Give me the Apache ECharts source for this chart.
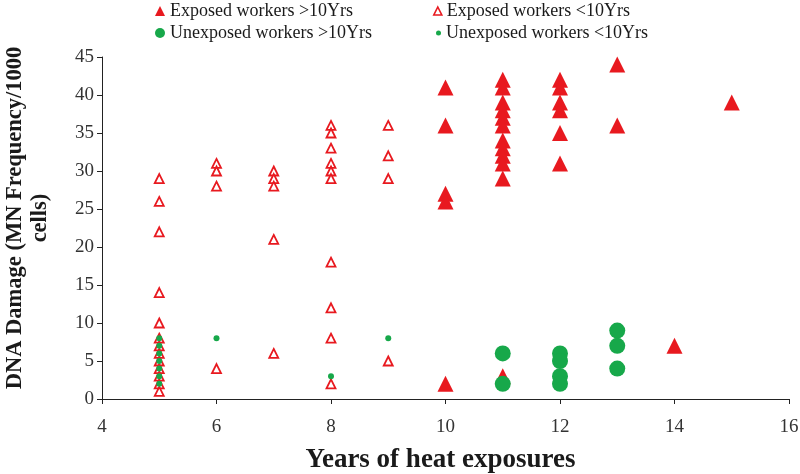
<!DOCTYPE html>
<html>
<head>
<meta charset="utf-8">
<script src="https://cdn.jsdelivr.net/npm/echarts@6/dist/echarts.min.js"></script>
<style>html,body{margin:0;padding:0;background:#fff}#c{width:800px;height:474px}</style>
</head>
<body>
<div id="c"></div>
<script>
// Series names
var nameExpGt10 = 'Exposed workers >10Yrs';
var nameExpLt10 = 'Exposed workers <10Yrs';
var nameUnexpGt10 = 'Unexposed workers >10Yrs';
var nameUnexpLt10 = 'Unexposed workers <10Yrs';

// [years, MN frequency]
var expGt10 = [[10,41],[10,36],[10,27],[10,26],[10,2],
  [11,42],[11,41],[11,39],[11,38],[11,37],[11,36],[11,34],[11,33],[11,32],[11,31],[11,29],[11,3],
  [12,42],[12,41],[12,39],[12,38],[12,35],[12,31],
  [13,44],[13,36],[14,7],[15,39]];
var expLt10 = [[5,29],[5,26],[5,22],[5,14],[5,10],[5,8],[5,7],[5,6],[5,5],[5,4],[5,3],[5,2],[5,1],
  [6,31],[6,30],[6,28],[6,4],
  [7,30],[7,29],[7,28],[7,21],[7,6],
  [8,36],[8,35],[8,33],[8,31],[8,30],[8,29],[8,18],[8,12],[8,8],[8,2],
  [9,36],[9,32],[9,29],[9,5]];
var unexpGt10 = [[11,6],[11,2],[12,6],[12,5],[12,3],[12,2],[13,9],[13,7],[13,4]];
var unexpLt10 = [[5,8],[5,7],[5,6],[5,5],[5,4],[5,3],[5,2],[6,8],[8,3],[9,8]];

var xTicks = {min:4, max:16, interval:2};
var yTicks = {min:0, max:45, interval:5};

var RED = '#e8191f', GREEN = '#17a84a';
var serif = 'Liberation Serif';
var legText = {fontFamily: serif, fontSize: 18, color: '#1a1a1a'};

function leg(name, icon, w, h, left, top, style) {
  return {data:[{name:name, icon:icon, itemStyle:style}], left:left, top:top, itemWidth:w, itemHeight:h,
    textStyle:legText, padding:0, selectedMode:false};
}

var chart = echarts.init(document.getElementById('c'), null, {renderer:'canvas'});
chart.setOption({
  animation:false,
  backgroundColor:'#fff',
  legend:[
    leg(nameExpGt10,'triangle',10,10,155,2,{color:RED}),
    leg(nameUnexpGt10,'circle',10,10,155,24,{color:GREEN}),
    leg(nameExpLt10,'triangle',8,8,433,2,{color:'#fff',borderColor:RED,borderWidth:1.6}),
    leg(nameUnexpLt10,'circle',5,5,436,24,{color:GREEN})
  ],
  grid:{left:102, right:11, top:57, bottom:75, containLabel:false, outerBoundsMode:'none'},
  xAxis:{type:'value', min:xTicks.min, max:xTicks.max, interval:xTicks.interval,
    name:'Years of heat exposures', nameLocation:'middle', nameGap:48,
    nameTextStyle:{fontFamily:serif, fontSize:27, fontWeight:'bold', color:'#1a1a1a', padding:[0,10,0,0]},
    axisLine:{lineStyle:{color:'#222', width:1}},
    axisTick:{show:true, inside:false, length:5, lineStyle:{color:'#222'}},
    axisLabel:{fontFamily:serif, fontSize:19, color:'#333', margin:19},
    splitLine:{show:false}},
  yAxis:{type:'value', min:yTicks.min, max:yTicks.max, interval:yTicks.interval,
    name:'DNA Damage (MN Frequency/1000\ncells)', nameLocation:'middle', nameGap:49, nameRotate:90,
    nameTextStyle:{fontFamily:serif, fontSize:22.5, fontWeight:'bold', color:'#1a1a1a', lineHeight:25, align:'center', padding:[0,0,0,20]},
    axisLine:{show:true, lineStyle:{color:'#222', width:1}},
    axisTick:{show:true, inside:false, length:5, lineStyle:{color:'#222'}},
    axisLabel:{fontFamily:serif, fontSize:19, color:'#333', margin:8},
    splitLine:{show:false}},
  series:[
    {name:nameExpLt10, type:'scatter', data:expLt10, symbol:'triangle', symbolSize:[9,9],
      itemStyle:{color:'#fff', borderColor:RED, borderWidth:1.8, opacity:1}},
    {name:nameUnexpLt10, type:'scatter', data:unexpLt10, symbol:'circle', symbolSize:6,
      itemStyle:{color:GREEN, opacity:1}},
    {name:nameExpGt10, type:'scatter', data:expGt10, symbol:'triangle', symbolSize:[16,16],
      itemStyle:{color:RED, opacity:1}},
    {name:nameUnexpGt10, type:'scatter', data:unexpGt10, symbol:'circle', symbolSize:16,
      itemStyle:{color:GREEN, opacity:1}}
  ]
});
</script>
</body>
</html>
